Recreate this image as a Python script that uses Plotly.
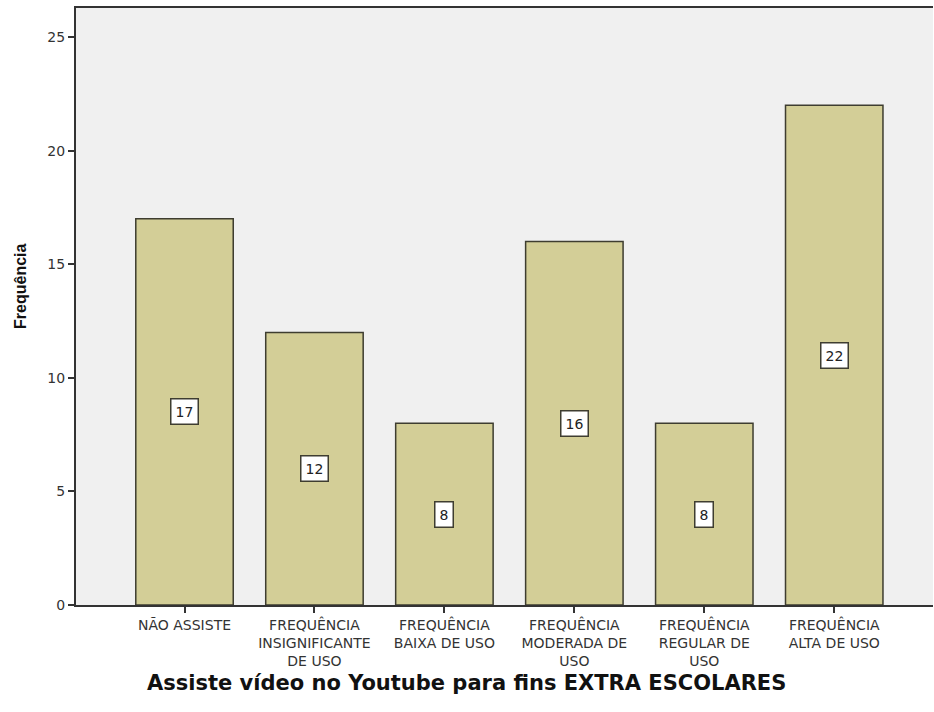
import plotly.graph_objects as go

categories = [
    "NÃO ASSISTE",
    "FREQUÊNCIA<br>INSIGNIFICANTE<br>DE USO",
    "FREQUÊNCIA<br>BAIXA DE USO",
    "FREQUÊNCIA<br>MODERADA DE<br>USO",
    "FREQUÊNCIA<br>REGULAR DE<br>USO",
    "FREQUÊNCIA<br>ALTA DE USO",
]
values = [17, 12, 8, 16, 8, 22]
y_ticks = [0, 5, 10, 15, 20, 25]

x_pos = list(range(len(categories)))
FONT = "DejaVu Sans, Liberation Sans, Arial"

fig = go.Figure()
fig.add_trace(go.Bar(
    x=x_pos,
    y=values,
    width=0.75,
    marker=dict(color="#D3CE97", line=dict(color="#3E3D30", width=1.5)),
    hoverinfo="skip",
))

# value labels in boxes
for xi, v in zip(x_pos, values):
    fig.add_annotation(
        x=xi, y=v / 2, xref="x", yref="y",
        text=str(v), showarrow=False,
        font=dict(family=FONT, size=14, color="#222"),
        bgcolor="white", bordercolor="#3E3D30", borderwidth=1.5, borderpad=4,
    )

fig.add_annotation(
    x=0.456, y=-0.13, xref="paper", yref="paper",
    text="<b>Assiste vídeo no Youtube para fins EXTRA ESCOLARES</b>",
    showarrow=False, xanchor="center", yanchor="middle",
    font=dict(family=FONT, size=21, color="#111"),
)
fig.add_annotation(
    x=-0.064, y=0.533, xref="paper", yref="paper",
    text="<b>Frequência</b>", textangle=-90,
    showarrow=False, xanchor="center", yanchor="middle",
    font=dict(family="Liberation Sans, Arial", size=16, color="#111"),
)

fig.update_layout(
    width=934, height=712,
    margin=dict(l=76, r=1, t=8, b=107),
    paper_bgcolor="white",
    plot_bgcolor="#F0F0F0",
    showlegend=False,
    font=dict(family=FONT, size=14, color="#333"),
    xaxis=dict(
        range=[-0.835, 5.76],
        tickmode="array", tickvals=x_pos, ticktext=categories,
        ticks="outside", ticklen=6, tickcolor="#333", tickwidth=1.5,
        showline=True, linecolor="#333", linewidth=2, mirror=True,
        showgrid=False, zeroline=False,
        tickfont=dict(family=FONT, size=14, color="#333"),
    ),
    yaxis=dict(
        range=[0, 26.28],
        tickmode="array", tickvals=y_ticks,
        ticks="outside", ticklen=6, tickcolor="#333", tickwidth=1.5,
        showline=True, linecolor="#333", linewidth=2,
        showgrid=False, zeroline=False,
        tickfont=dict(family=FONT, size=14, color="#333"),
    ),
)

fig.write_html("out.html")
